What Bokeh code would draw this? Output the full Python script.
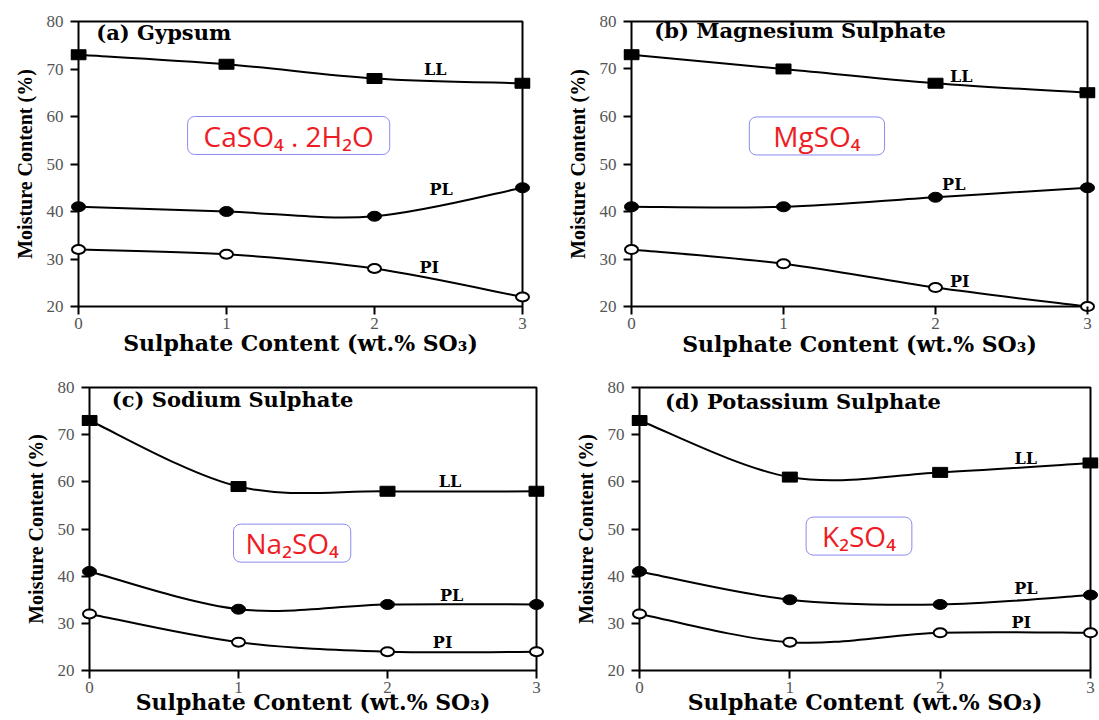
from bokeh.plotting import figure
from bokeh.layouts import column, row
from bokeh.models import Range1d, FixedTicker, Label
from bokeh.embed import file_html
from bokeh.resources import INLINE

# Sulphate content (wt.% SO3)
sulphate = [0, 1, 2, 3]

# Consistency limits, moisture content (%)
gypsum_ll = [73, 71, 68, 67]
gypsum_pl = [41, 40, 39, 45]
gypsum_pi = [32, 31, 28, 22]

mgso4_ll = [73, 70, 67, 65]
mgso4_pl = [41, 41, 43, 45]
mgso4_pi = [32, 29, 24, 20]

na2so4_ll = [73, 59, 58, 58]
na2so4_pl = [41, 33, 34, 34]
na2so4_pi = [32, 26, 24, 24]

k2so4_ll = [73, 61, 62, 64]
k2so4_pl = [41, 35, 34, 36]
k2so4_pi = [32, 26, 28, 28]

x_ticks = [0, 1, 2, 3]
y_ticks = [20, 30, 40, 50, 60, 70, 80]
series_names = ["LL", "PL", "PI"]
panel_titles = ["(a) Gypsum", "(b) Magnesium Sulphate",
                "(c) Sodium Sulphate", "(d) Potassium Sulphate"]
compound_labels = ["CaSO\u2084 . 2H\u2082O", "MgSO\u2084", "Na\u2082SO\u2084", "K\u2082SO\u2084"]
x_title = "Sulphate Content (wt.% SO\u2083)"
y_title = "Moisture Content (%)"

# Layout of each panel: figure size, plot box (left, top, width, height) in px,
# label anchors in data units, compound box padding, axis standoffs
PAD = 8
panel_layout = [
    dict(size=(560, 370), box=(78, 21, 444, 285),
         title_at=(0.12, 77.7),
         names_at=[(2.41, 69.8), (2.45, 44.6), (2.37, 28.2)],
         compound_at=(1.42, 56.0), compound_pad=(16, 0), xlab_standoff=-2),
    dict(size=(539, 370), box=(71, 20, 456, 287),
         title_at=(0.15, 78.2),
         names_at=[(2.17, 68.5), (2.12, 45.7), (2.16, 25.2)],
         compound_at=(1.22, 55.9), compound_pad=(24, 0), xlab_standoff=-1),
    dict(size=(560, 350), box=(89, 17, 447, 284),
         title_at=(0.15, 77.5),
         names_at=[(2.42, 60.1), (2.43, 35.8), (2.37, 25.9)],
         compound_at=(1.36, 47.0), compound_pad=(12, 0), xlab_standoff=-7),
    dict(size=(539, 350), box=(79, 16, 451, 284),
         title_at=(0.17, 77.1),
         names_at=[(2.57, 65.0), (2.57, 37.3), (2.54, 30.2)],
         compound_at=(1.46, 48.5), compound_pad=(16, 0), xlab_standoff=-7),
]

panel_data = [
    (gypsum_ll, gypsum_pl, gypsum_pi),
    (mgso4_ll, mgso4_pl, mgso4_pi),
    (na2so4_ll, na2so4_pl, na2so4_pi),
    (k2so4_ll, k2so4_pl, k2so4_pi),
]

SERIF = "DejaVu Serif"


def bezier_pieces(xs, ys):
    """Catmull-Rom curve through the points, as cubic Bezier pieces."""
    n = len(xs)
    out = dict(x0=[], y0=[], x1=[], y1=[], cx0=[], cy0=[], cx1=[], cy1=[])
    for i in range(n - 1):
        a, b = max(i - 1, 0), min(i + 2, n - 1)
        out["x0"].append(xs[i]); out["y0"].append(ys[i])
        out["x1"].append(xs[i + 1]); out["y1"].append(ys[i + 1])
        out["cx0"].append(xs[i] + (xs[i + 1] - xs[a]) / 6)
        out["cy0"].append(ys[i] + (ys[i + 1] - ys[a]) / 6)
        out["cx1"].append(xs[i + 1] - (xs[b] - xs[i]) / 6)
        out["cy1"].append(ys[i + 1] - (ys[b] - ys[i]) / 6)
    return out


def make_panel(idx):
    cfg = panel_layout[idx]
    ll, pl, pi = panel_data[idx]
    fw, fh = cfg["size"]
    bl, bt, bw, bh = cfg["box"]
    xmin, xmax = x_ticks[0], x_ticks[-1]
    ymin, ymax = y_ticks[0], y_ticks[-1]
    px_x = bw / (xmax - xmin)
    px_y = bh / (ymax - ymin)

    p = figure(width=fw, height=fh, output_backend="svg", toolbar_location=None,
               x_range=Range1d(xmin - PAD / px_x, xmax + PAD / px_x),
               y_range=Range1d(ymin - PAD / px_y, ymax + PAD / px_y))
    p.min_border_left = bl - PAD
    p.min_border_top = bt - PAD
    p.min_border_right = fw - (bl + bw + PAD)
    p.min_border_bottom = fh - (bt + bh + PAD)
    p.outline_line_color = None
    p.xgrid.visible = False
    p.ygrid.visible = False

    p.xaxis.ticker = FixedTicker(ticks=x_ticks)
    p.yaxis.ticker = FixedTicker(ticks=y_ticks)
    for ax in (p.xaxis, p.yaxis):
        ax.axis_line_color = None
        ax.major_tick_in = PAD
        ax.major_tick_out = 0
        ax.major_tick_line_width = 2
        ax.major_tick_line_color = "black"
        ax.minor_tick_line_color = None
        ax.major_label_text_font = "Liberation Serif"
        ax.major_label_text_font_size = "17px"
        ax.major_label_text_color = "#555555"
    p.xaxis.major_label_standoff = 3
    p.yaxis.major_label_standoff = 7

    p.xaxis.axis_label = x_title
    p.xaxis.axis_label_text_font = SERIF
    p.xaxis.axis_label_text_font_size = "22px"
    p.xaxis.axis_label_text_font_style = "bold"
    p.xaxis.axis_label_text_color = "black"
    p.xaxis.axis_label_standoff = cfg["xlab_standoff"]

    p.yaxis.axis_label = y_title
    p.yaxis.axis_label_text_font = "Liberation Serif"
    p.yaxis.axis_label_text_font_size = "20px"
    p.yaxis.axis_label_text_font_style = "bold"
    p.yaxis.axis_label_text_color = "black"
    p.yaxis.axis_label_standoff = 8

    # plot box
    p.quad(left=xmin, right=xmax, bottom=ymin, top=ymax,
           fill_color=None, line_color="black", line_width=2)

    # smooth connecting curves
    for ys in (ll, pl, pi):
        p.bezier(**bezier_pieces(sulphate, ys), line_color="black", line_width=2)

    # markers
    p.rect(x=sulphate, y=ll, width=15, height=10, width_units="screen",
           height_units="screen", fill_color="black", line_color="black")
    p.ellipse(x=sulphate, y=pl, width=14, height=10, width_units="screen",
              height_units="screen", fill_color="black", line_color="black")
    p.ellipse(x=sulphate, y=pi, width=13, height=9, width_units="screen",
              height_units="screen", fill_color="white", line_color="black",
              line_width=2)

    # panel title
    tx, ty = cfg["title_at"]
    p.add_layout(Label(x=tx, y=ty, text=panel_titles[idx], text_font=SERIF,
                       text_font_size="21px", text_font_style="bold",
                       text_color="black", text_align="left",
                       text_baseline="middle"))

    # series names
    for name, (nx, ny) in zip(series_names, cfg["names_at"]):
        p.add_layout(Label(x=nx, y=ny, text=name, text_font=SERIF,
                           text_font_size="16px", text_font_style="bold",
                           text_color="black", text_align="center",
                           text_baseline="middle"))

    # compound tag
    cx, cy = cfg["compound_at"]
    p.add_layout(Label(x=cx, y=cy, text=compound_labels[idx], text_font="Open Sans",
                       text_font_size="28px", text_color="#ee1c24",
                       text_align="center", text_baseline="middle",
                       background_fill_color="white", border_line_color="#8a8af0",
                       border_line_width=1, border_radius=7,
                       padding=cfg["compound_pad"]))
    return p


figs = [make_panel(i) for i in range(4)]
layout = column(row(figs[0], figs[1]), row(figs[2], figs[3]))

open("out.html", "w").write(file_html(layout, INLINE))
